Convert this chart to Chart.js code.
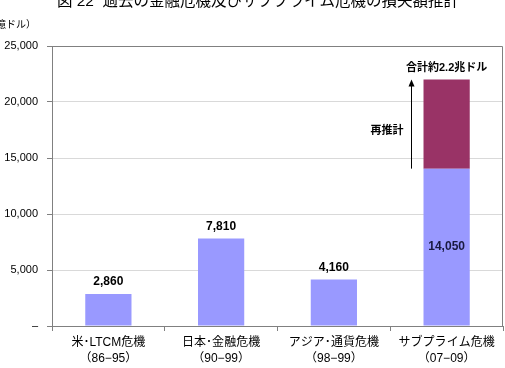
<!DOCTYPE html>
<html lang="ja">
<head>
<meta charset="utf-8">
<script src="https://cdn.jsdelivr.net/npm/chart.js@4.4.1/dist/chart.umd.min.js"></script>
<style>
    html, body { margin: 0; padding: 0; background: #fff; }
    #wrap { width: 505px; height: 368px; position: relative; }
</style>
</head>
<body>
<div id="wrap"><canvas id="lossChart"></canvas></div>
<script>
// données
const categories = [
    ['米･LTCM危機', '（86−95）'],
    ['日本･金融危機', '（90−99）'],
    ['アジア･通貨危機', '（98−99）'],
    ['サブプライム危機', '（07−09）']
];
const baseLosses = [2860, 7810, 4160, 14050];
const reEstimate = [null, null, null, 7950];
const yTicks = [0, 5000, 10000, 15000, 20000, 25000];

const titleText = '図 22  過去の金融危機及びサブプライム危機の損失額推計';
const unitText = '（億ドル）';
const totalText = '合計約2.2兆ドル';
const arrowText = '再推計';

const FONT = '"Liberation Sans", "Noto Sans CJK JP", sans-serif';
const AXIS = '#808080';

// titre, unité, cadre, étiquettes
const decorPlugin = {
    id: 'decor',
    beforeDatasetsDraw(chart) {
        const { ctx, chartArea: a } = chart;
        ctx.save();
        ctx.strokeStyle = AXIS;
        ctx.lineWidth = 1;
        ctx.beginPath();
        ctx.moveTo(a.left, a.top + 0.5);
        ctx.lineTo(a.right - 0.5, a.top + 0.5);
        ctx.lineTo(a.right - 0.5, a.bottom);
        ctx.stroke();
        ctx.restore();
    },
    afterDraw(chart) {
        const { ctx } = chart;
        ctx.save();
        ctx.fillStyle = '#000';
        ctx.textBaseline = 'middle';

        ctx.font = '15.5px ' + FONT;
        ctx.textAlign = 'center';
        ctx.fillText(titleText, 258, 2);

        ctx.font = '10px ' + FONT;
        ctx.textAlign = 'right';
        ctx.fillText(unitText, 36, 25);

        // valeurs des barres
        const base = chart.getDatasetMeta(0).data;
        ctx.font = 'bold 12px ' + FONT;
        ctx.textAlign = 'center';
        base.forEach((el, i) => {
            const txt = baseLosses[i].toLocaleString('en-US');
            if (reEstimate[i] != null) {
                ctx.fillStyle = '#1a1a40';
                ctx.fillText(txt, el.x, (el.y + el.base) / 2);
            } else {
                ctx.fillStyle = '#000';
                ctx.fillText(txt, el.x, el.y - 12);
            }
        });

        // total + flèche
        const top = chart.getDatasetMeta(1).data;
        top.forEach((el, i) => {
            if (reEstimate[i] == null) return;
            ctx.fillStyle = '#000';
            ctx.font = 'bold 11px ' + FONT;
            ctx.textAlign = 'center';
            ctx.fillText(totalText, el.x, el.y - 12);

            const ax = el.x - el.width / 2 - 12;
            const y0 = el.base;
            const y1 = el.y;
            ctx.strokeStyle = '#000';
            ctx.lineWidth = 1;
            ctx.beginPath();
            ctx.moveTo(ax, y0);
            ctx.lineTo(ax, y1 + 5);
            ctx.stroke();
            ctx.beginPath();
            ctx.moveTo(ax, y1);
            ctx.lineTo(ax - 3, y1 + 7);
            ctx.lineTo(ax + 3, y1 + 7);
            ctx.closePath();
            ctx.fill();

            ctx.textAlign = 'right';
            ctx.fillText(arrowText, ax - 8, (y0 + y1) / 2 + 7);
        });
        ctx.restore();
    }
};

const ctx = document.getElementById('lossChart').getContext('2d');
new Chart(ctx, {
    type: 'bar',
    data: {
        labels: categories,
        datasets: [
            { data: baseLosses, backgroundColor: '#9999ff', categoryPercentage: 1, barPercentage: 0.41 },
            { data: reEstimate, backgroundColor: '#993366', categoryPercentage: 1, barPercentage: 0.41 }
        ]
    },
    options: {
        responsive: true,
        maintainAspectRatio: false,
        animation: false,
        layout: { padding: { top: 46, right: 2, left: 0, bottom: 0 } },
        plugins: { legend: { display: false }, tooltip: { enabled: false } },
        scales: {
            x: {
                stacked: true,
                afterFit: s => { s.height = 42; },
                border: { color: AXIS },
                grid: { drawOnChartArea: false, tickLength: 5, tickColor: AXIS },
                ticks: {
                    color: '#000',
                    padding: 4,
                    font: { family: FONT, size: 12, lineHeight: 1.33 }
                }
            },
            y: {
                stacked: true,
                min: 0,
                max: 25000,
                afterFit: s => { s.width = 52; },
                afterBuildTicks: s => { s.ticks = yTicks.map(v => ({ value: v })); },
                border: { color: AXIS },
                grid: {
                    color: c => (c.tick && (c.tick.value === 0 || c.tick.value === 25000)) ? 'rgba(0,0,0,0)' : '#d9d9d9',
                    tickLength: 5,
                    tickColor: AXIS
                },
                ticks: {
                    color: '#000',
                    padding: 9,
                    font: { family: FONT, size: 11 },
                    callback: v => v === 0 ? '–' : v.toLocaleString('en-US')
                }
            }
        }
    },
    plugins: [decorPlugin]
});
</script>
</body>
</html>
